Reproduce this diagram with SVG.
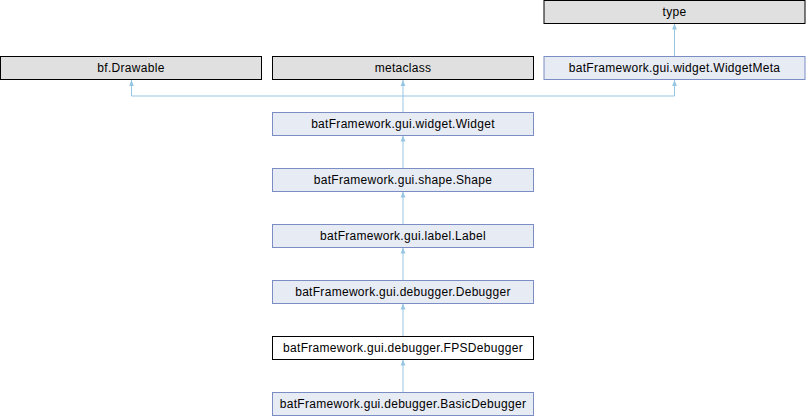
<svg xmlns="http://www.w3.org/2000/svg" width="806" height="416" viewBox="0 0 806 416">
<defs>
<marker id="arr" viewBox="0 0 6 6" refX="6" refY="3" markerWidth="6" markerHeight="6" markerUnits="userSpaceOnUse" orient="auto">
<path d="M0,0.6 L6,3 L0,5.4 Z" fill="#97c6e3" stroke="none"/>
</marker>
</defs>
<style>
.ext rect{fill:#e0e0e0;stroke:#000;stroke-width:1}
.cls rect{fill:#e7ebf4;stroke:#7b8dc4;stroke-width:1}
.cur rect{fill:#fff;stroke:#000;stroke-width:1}
text{font-family:"Liberation Sans",Arial,sans-serif;font-size:12px;letter-spacing:0.3px;fill:#000;text-anchor:middle}
.edge{fill:none;stroke:#97c6e3;stroke-width:1}
</style>
<g id="connectors">
<path class="edge" d="M403,112 V96 H131.5 V80" marker-end="url(#arr)"/>
<path class="edge" d="M403,96 V80" marker-end="url(#arr)"/>
<path class="edge" d="M403,96 H674.5 V80" marker-end="url(#arr)"/>
<path class="edge" d="M674.5,56.5 V23.5" marker-end="url(#arr)"/>
<path class="edge" d="M403,168 V135.5" marker-end="url(#arr)"/>
<path class="edge" d="M403,224 V191.5" marker-end="url(#arr)"/>
<path class="edge" d="M403,280 V247.5" marker-end="url(#arr)"/>
<path class="edge" d="M403,336 V303.5" marker-end="url(#arr)"/>
<path class="edge" d="M403,392 V359.5" marker-end="url(#arr)"/>
</g>
<g id="node-type" class="ext"><rect x="544" y="0.5" width="261" height="23"/><text x="674.5" y="15.8">type</text></g>
<g id="node-drawable" class="ext"><rect x="0.5" y="56.5" width="261" height="23"/><text x="131" y="71.8">bf.Drawable</text></g>
<g id="node-metaclass" class="ext"><rect x="272.5" y="56.5" width="261" height="23"/><text x="403" y="71.8">metaclass</text></g>
<g id="node-widgetmeta" class="cls"><rect x="544" y="56.5" width="261" height="23"/><text x="674.5" y="71.8">batFramework.gui.widget.WidgetMeta</text></g>
<g id="node-widget" class="cls"><rect x="272.5" y="112.5" width="261" height="23"/><text x="403" y="127.8">batFramework.gui.widget.Widget</text></g>
<g id="node-shape" class="cls"><rect x="272.5" y="168.5" width="261" height="23"/><text x="403" y="183.8">batFramework.gui.shape.Shape</text></g>
<g id="node-label" class="cls"><rect x="272.5" y="224.5" width="261" height="23"/><text x="403" y="239.8">batFramework.gui.label.Label</text></g>
<g id="node-debugger" class="cls"><rect x="272.5" y="280.5" width="261" height="23"/><text x="403" y="295.8">batFramework.gui.debugger.Debugger</text></g>
<g id="node-fpsdebugger" class="cur"><rect x="272.5" y="336.5" width="261" height="23"/><text x="403" y="351.8">batFramework.gui.debugger.FPSDebugger</text></g>
<g id="node-basicdebugger" class="cls"><rect x="272.5" y="392.5" width="261" height="23"/><text x="403" y="407.8">batFramework.gui.debugger.BasicDebugger</text></g>
</svg>
